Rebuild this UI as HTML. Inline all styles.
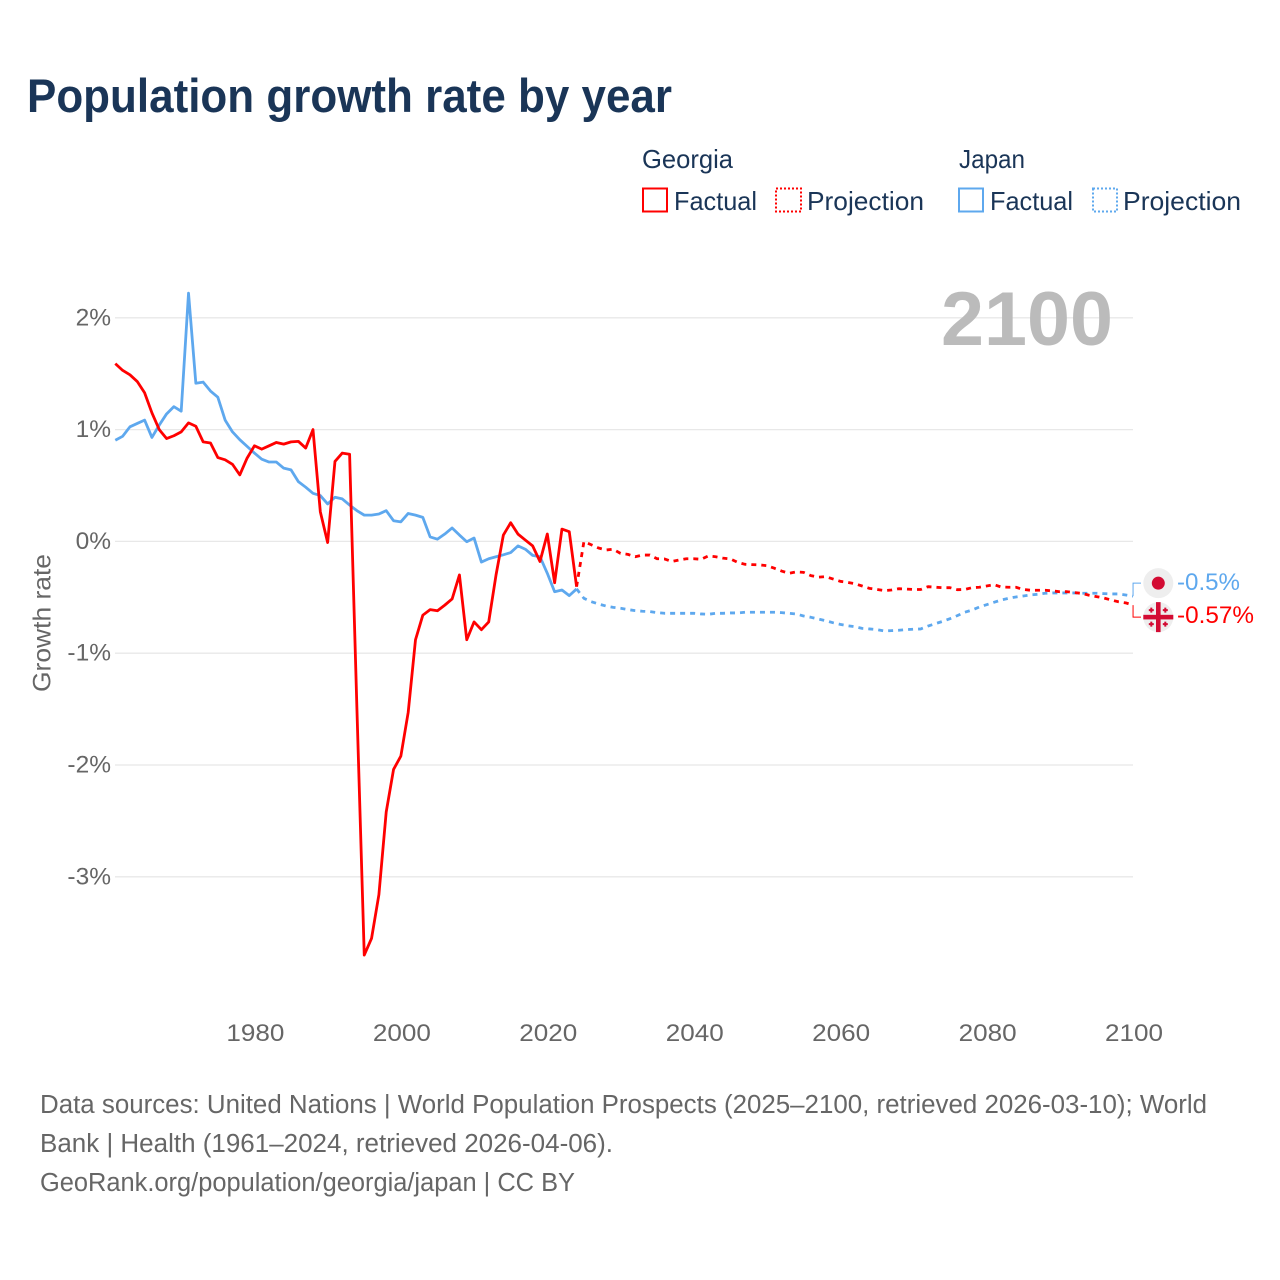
<!DOCTYPE html>
<html lang="en">
<head>
<meta charset="utf-8">
<title>Population growth rate by year</title>
<style>
  html, body { margin: 0; padding: 0; background: #fff; }
  svg { display: block; }
  text { font-family: "Liberation Sans", "DejaVu Sans", sans-serif; }
</style>
</head>
<body>
<svg id="chart" xmlns="http://www.w3.org/2000/svg" width="1280" height="1280" viewBox="0 0 1280 1280">
  <rect width="1280" height="1280" fill="#fff"/>
  <text x="27" y="112" font-size="47" font-weight="700" fill="#1a3557" textLength="645" lengthAdjust="spacingAndGlyphs">Population growth rate by year</text>

  <g font-size="26" fill="#1a3557">
    <text x="642" y="168" textLength="91" lengthAdjust="spacingAndGlyphs">Georgia</text>
    <text x="959" y="168" textLength="66" lengthAdjust="spacingAndGlyphs">Japan</text>
    <g>
      <rect x="643" y="188.500" width="24" height="23" fill="none" stroke="#ff0000" stroke-width="2"/>
      <text x="674" y="210" textLength="83" lengthAdjust="spacingAndGlyphs">Factual</text>
    </g>
    <g>
      <rect x="776" y="188.500" width="25" height="23" fill="none" stroke="#ff0000" stroke-width="2" stroke-dasharray="2 2"/>
      <text x="807" y="210" textLength="117" lengthAdjust="spacingAndGlyphs">Projection</text>
    </g>
    <g>
      <rect x="959" y="188.500" width="24" height="23" fill="none" stroke="#5ea8ee" stroke-width="2"/>
      <text x="990" y="210" textLength="83" lengthAdjust="spacingAndGlyphs">Factual</text>
    </g>
    <g>
      <rect x="1093" y="188.500" width="24" height="23" fill="none" stroke="#5ea8ee" stroke-width="2" stroke-dasharray="2 2"/>
      <text x="1123" y="210" textLength="118" lengthAdjust="spacingAndGlyphs">Projection</text>
    </g>
  </g>

  <text transform="translate(50.500 692) rotate(-90)" font-size="25" fill="#666" textLength="138" lengthAdjust="spacingAndGlyphs">Growth rate</text>
  <g id="grid"></g>
  <g id="yticks"></g>
  <g id="xticks"></g>
  <text x="1113" y="345" text-anchor="end" font-size="76" font-weight="700" fill="#bbbbbb" textLength="172" lengthAdjust="spacingAndGlyphs">2100</text>
  <g id="series"></g>
  <g id="ends"></g>

  <g font-size="25.500" fill="#666">
    <text x="40" y="1113" textLength="1167" lengthAdjust="spacingAndGlyphs">Data sources: United Nations | World Population Prospects (2025–2100, retrieved 2026-03-10); World</text>
    <text x="40" y="1152" textLength="573" lengthAdjust="spacingAndGlyphs">Bank | Health (1961–2024, retrieved 2026-04-06).</text>
    <text x="40" y="1191" textLength="535" lengthAdjust="spacingAndGlyphs">GeoRank.org/population/georgia/japan | CC BY</text>
  </g>
</svg>
<script>
const xTickYears = [1980, 2000, 2020, 2040, 2060, 2080, 2100];
const yTickValues = [2, 1, 0, -1, -2, -3];
const factualStartYear = 1961;
const projectionStartYear = 2024;

const georgiaFactual = [1.59,1.53,1.49,1.43,1.33,1.15,1.00,0.92,0.945,0.98,1.06,1.03,0.89,0.88,0.75,0.73,0.69,0.595,0.745,0.855,0.825,0.855,0.885,0.87,0.89,0.895,0.835,1.00,0.265,-0.01,0.715,0.79,0.78,-1.5,-3.70,-3.55,-3.16,-2.42,-2.04,-1.92,-1.53,-0.88,-0.66,-0.61,-0.62,-0.57,-0.515,-0.30,-0.88,-0.72,-0.79,-0.72,-0.30,0.057,0.167,0.065,0.012,-0.04,-0.18,0.066,-0.37,0.11,0.087,-0.405];

const japanFactual = [0.905,0.94,1.025,1.055,1.085,0.93,1.04,1.14,1.205,1.165,2.22,1.415,1.425,1.345,1.29,1.085,0.98,0.91,0.85,0.79,0.735,0.71,0.71,0.655,0.64,0.535,0.485,0.43,0.41,0.335,0.395,0.38,0.325,0.275,0.235,0.235,0.245,0.275,0.185,0.175,0.25,0.235,0.215,0.04,0.02,0.066,0.12,0.057,-0.003,0.03,-0.185,-0.155,-0.137,-0.12,-0.10,-0.04,-0.07,-0.125,-0.137,-0.285,-0.45,-0.435,-0.485,-0.425];

const georgiaProjection = [-0.405,-0.002,-0.03,-0.059,-0.077,-0.07,-0.107,-0.116,-0.137,-0.122,-0.122,-0.155,-0.157,-0.18,-0.166,-0.155,-0.155,-0.16,-0.13,-0.137,-0.15,-0.157,-0.187,-0.205,-0.208,-0.21,-0.217,-0.24,-0.265,-0.285,-0.273,-0.277,-0.306,-0.32,-0.315,-0.336,-0.357,-0.366,-0.378,-0.399,-0.42,-0.43,-0.44,-0.435,-0.423,-0.426,-0.43,-0.43,-0.405,-0.41,-0.414,-0.414,-0.432,-0.43,-0.414,-0.41,-0.399,-0.387,-0.408,-0.41,-0.41,-0.43,-0.437,-0.437,-0.437,-0.443,-0.45,-0.45,-0.458,-0.465,-0.482,-0.494,-0.506,-0.524,-0.54,-0.55,-0.57];

const japanProjection = [-0.425,-0.509,-0.539,-0.56,-0.578,-0.59,-0.598,-0.61,-0.619,-0.625,-0.628,-0.637,-0.643,-0.643,-0.643,-0.643,-0.643,-0.649,-0.652,-0.643,-0.643,-0.64,-0.64,-0.634,-0.634,-0.634,-0.634,-0.634,-0.637,-0.643,-0.649,-0.667,-0.679,-0.694,-0.709,-0.727,-0.742,-0.754,-0.763,-0.778,-0.783,-0.789,-0.801,-0.798,-0.795,-0.789,-0.786,-0.783,-0.757,-0.736,-0.715,-0.691,-0.664,-0.634,-0.614,-0.587,-0.566,-0.545,-0.524,-0.509,-0.497,-0.488,-0.479,-0.473,-0.464,-0.461,-0.461,-0.461,-0.461,-0.464,-0.464,-0.464,-0.467,-0.47,-0.47,-0.479,-0.49];

const endValueLabels = ["-0.5%", "-0.57%"];

const SVG_NS = "http://www.w3.org/2000/svg";
const xScale = function (year) { return 115.3 + (year - 1961) * 7.322; };
const yScale = function (value) { return 541.4 - value * 111.8; };

function make(tag, attrs, parent) {
  const el = document.createElementNS(SVG_NS, tag);
  Object.keys(attrs).forEach(function (k) { el.setAttribute(k, attrs[k]); });
  parent.appendChild(el);
  return el;
}
function linePoints(values, startYear) {
  return values.map(function (v, i) {
    return xScale(startYear + i).toFixed(2) + "," + yScale(v).toFixed(2);
  }).join(" ");
}

const gridGroup = document.getElementById("grid");
const yTickGroup = document.getElementById("yticks");
yTickValues.forEach(function (v) {
  const line = make("line", { x1: 115, x2: 1133, y1: yScale(v), y2: yScale(v), stroke: "#e8e8e8", "stroke-width": 1.300 }, gridGroup);
  
  
  const label = make("text", { x: 111, y: yScale(v) + 7.500, "text-anchor": "end", "font-size": 24.500, fill: "#666" }, yTickGroup);
  
  
  label.textContent = v + "%";
});

const xTickGroup = document.getElementById("xticks");
xTickYears.forEach(function (year) {
  const label = make("text", { x: xScale(year) + 1, y: 1041, "text-anchor": "middle", "font-size": 24.500, fill: "#666", textLength: 58, lengthAdjust: "spacingAndGlyphs" }, xTickGroup);
  
  
  label.textContent = year;
});

const seriesGroup = document.getElementById("series");
function drawLine(values, startYear, color, dashed, name) {
  const attrs = { points: linePoints(values, startYear), fill: "none", stroke: color, "stroke-width": 2.800, "stroke-linejoin": "round" };
  if (dashed) { attrs["stroke-dasharray"] = "5 5"; }
  const line = make("polyline", attrs, seriesGroup);
  
  
}
drawLine(japanProjection, projectionStartYear, "#5ea8ee", true, "japan-projection-line");
drawLine(georgiaProjection, projectionStartYear, "#ff0000", true, "georgia-projection-line");
drawLine(japanFactual, factualStartYear, "#5ea8ee", false, "japan-factual-line");
drawLine(georgiaFactual, factualStartYear, "#ff0000", false, "georgia-factual-line");

const endGroup = document.getElementById("ends");
const endX = xScale(2100);
const japanEndY = yScale(japanProjection[japanProjection.length - 1]);
const georgiaEndY = yScale(georgiaProjection[georgiaProjection.length - 1]);
const japanFlagY = japanEndY - 13;
const georgiaFlagY = georgiaEndY + 12;
const flagX = 1158.300;

const japanConnector = make("polyline", { points: endX + "," + japanEndY + " " + endX + "," + japanFlagY + " 1141," + japanFlagY, fill: "none", stroke: "#5ea8ee", "stroke-width": 1 }, endGroup);


const georgiaConnector = make("polyline", { points: endX + "," + georgiaEndY + " " + endX + "," + georgiaFlagY + " 1141," + georgiaFlagY, fill: "none", stroke: "#ff0000", "stroke-width": 1 }, endGroup);



const japanFlag = make("g", {}, endGroup);


make("circle", { cx: flagX, cy: japanFlagY, r: 15, fill: "#eeeeee" }, japanFlag);
make("circle", { cx: flagX, cy: japanFlagY, r: 6.500, fill: "#d30b33" }, japanFlag);

const georgiaFlag = make("g", {}, endGroup);


make("circle", { cx: flagX, cy: georgiaFlagY, r: 15, fill: "#eeeeee" }, georgiaFlag);
make("rect", { x: flagX - 2.300, y: georgiaFlagY - 15, width: 4.600, height: 30, fill: "#d30b33" }, georgiaFlag);
make("rect", { x: flagX - 15, y: georgiaFlagY - 2.300, width: 30, height: 4.600, fill: "#d30b33" }, georgiaFlag);
[[-7, -7], [7, -7], [-7, 7], [7, 7]].forEach(function (o) {
  make("rect", { x: flagX + o[0] - 2.500, y: georgiaFlagY + o[1] - 1, width: 5, height: 2, fill: "#d30b33" }, georgiaFlag);
  make("rect", { x: flagX + o[0] - 1, y: georgiaFlagY + o[1] - 2.500, width: 2, height: 5, fill: "#d30b33" }, georgiaFlag);
});

const japanEndLabel = make("text", { x: 1177, y: japanFlagY + 7, "font-size": 24.500, fill: "#5ea8ee", textLength: 63, lengthAdjust: "spacingAndGlyphs" }, endGroup);


japanEndLabel.textContent = endValueLabels[0];
const georgiaEndLabel = make("text", { x: 1177, y: georgiaFlagY + 6, "font-size": 24.500, fill: "#ff0000", textLength: 77, lengthAdjust: "spacingAndGlyphs" }, endGroup);


georgiaEndLabel.textContent = endValueLabels[1];
</script>
</body>
</html>
